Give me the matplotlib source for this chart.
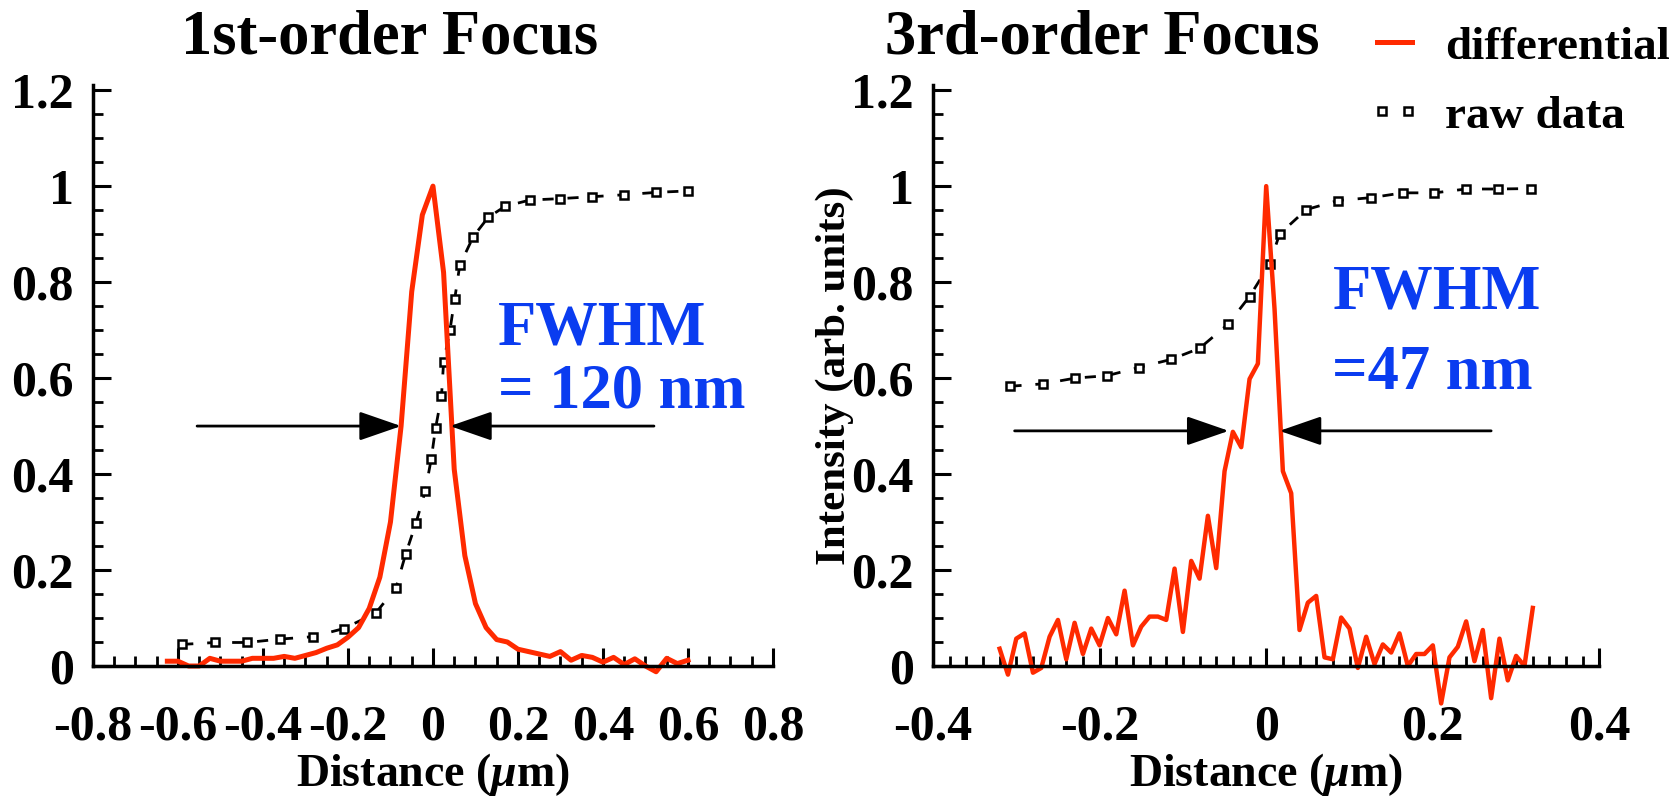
import matplotlib
matplotlib.use("Agg")
import matplotlib.pyplot as plt
from matplotlib.lines import Line2D
from matplotlib.legend_handler import HandlerLine2D
from matplotlib.ticker import MultipleLocator

plt.rcParams['font.family'] = ['Liberation Serif', 'DejaVu Serif']
plt.rcParams['font.weight'] = 'bold'
plt.rcParams['axes.titleweight'] = 'bold'
plt.rcParams['axes.labelweight'] = 'bold'
plt.rcParams['mathtext.fontset'] = 'custom'
plt.rcParams['mathtext.rm'] = 'Liberation Serif:bold'
plt.rcParams['mathtext.it'] = 'Liberation Serif:italic:bold'

# ---- 1st-order focus data ----
x1_diff = [-0.625, -0.600, -0.575, -0.550, -0.525, -0.500, -0.475, -0.450, -0.425, -0.400,
           -0.375, -0.350, -0.325, -0.300, -0.275, -0.250, -0.225, -0.200, -0.175, -0.150,
           -0.125, -0.100, -0.075, -0.050, -0.025, 0.000, 0.025, 0.050, 0.075, 0.100,
           0.125, 0.150, 0.175, 0.200, 0.225, 0.250, 0.275, 0.300, 0.325, 0.350,
           0.375, 0.400, 0.425, 0.450, 0.475, 0.500, 0.525, 0.550, 0.575, 0.600]
y1_diff = [0.010, 0.010, 0.000, 0.000, 0.016, 0.010, 0.010, 0.010, 0.016, 0.016,
           0.016, 0.020, 0.016, 0.022, 0.028, 0.037, 0.044, 0.060, 0.080, 0.120,
           0.185, 0.300, 0.500, 0.780, 0.940, 1.000, 0.820, 0.410, 0.230, 0.130,
           0.080, 0.055, 0.050, 0.035, 0.030, 0.025, 0.020, 0.030, 0.012, 0.022,
           0.018, 0.008, 0.018, 0.003, 0.015, 0.000, -0.012, 0.016, 0.005, 0.012]

x1_raw = [-0.59, -0.512, -0.437, -0.361, -0.283, -0.21, -0.135, -0.087, -0.064, -0.04,
          -0.018, -0.004, 0.006, 0.02, 0.025, 0.04, 0.051, 0.063, 0.095, 0.13,
          0.17, 0.228, 0.30, 0.375, 0.45, 0.525, 0.60]
y1_raw = [0.045, 0.049, 0.049, 0.056, 0.061, 0.078, 0.11, 0.163, 0.234, 0.298,
          0.365, 0.432, 0.495, 0.562, 0.633, 0.70, 0.764, 0.835, 0.895, 0.935,
          0.958, 0.971, 0.974, 0.978, 0.982, 0.987, 0.990]

# ---- 3rd-order focus data ----
x3_diff = [-0.32, -0.31, -0.30, -0.29, -0.28, -0.27, -0.26, -0.25, -0.24, -0.23,
           -0.22, -0.21, -0.20, -0.19, -0.18, -0.17, -0.16, -0.15, -0.14, -0.13,
           -0.12, -0.11, -0.10, -0.09, -0.08, -0.07, -0.06, -0.05, -0.04, -0.03,
           -0.02, -0.01, 0.00, 0.01, 0.02, 0.03, 0.04, 0.05, 0.06, 0.07,
           0.08, 0.09, 0.10, 0.11, 0.12, 0.13, 0.14, 0.15, 0.16, 0.17,
           0.18, 0.19, 0.20, 0.21, 0.22, 0.23, 0.24, 0.25, 0.26, 0.27,
           0.28, 0.29, 0.30, 0.31, 0.32]
y3_diff = [0.036, -0.018, 0.057, 0.068, -0.014, -0.004, 0.061, 0.096, 0.014, 0.090,
           0.025, 0.078, 0.043, 0.100, 0.066, 0.157, 0.043, 0.082, 0.103, 0.103,
           0.096, 0.203, 0.071, 0.219, 0.182, 0.313, 0.204, 0.406, 0.488, 0.456,
           0.598, 0.630, 1.000, 0.744, 0.406, 0.360, 0.075, 0.132, 0.146, 0.018,
           0.014, 0.101, 0.078, -0.004, 0.061, 0.004, 0.045, 0.028, 0.068, 0.000,
           0.025, 0.025, 0.043, -0.078, 0.018, 0.040, 0.093, 0.010, 0.075, -0.067,
           0.057, -0.030, 0.021, 0.000, 0.121]

x3_raw = [-0.307, -0.268, -0.229, -0.191, -0.153, -0.114, -0.08, -0.046, -0.02, 0.004,
          0.016, 0.048, 0.086, 0.126, 0.164, 0.202, 0.24, 0.278, 0.318]
y3_raw = [0.583, 0.588, 0.600, 0.605, 0.622, 0.639, 0.662, 0.712, 0.770, 0.837,
          0.900, 0.951, 0.970, 0.976, 0.986, 0.986, 0.994, 0.994, 0.995]

red = '#FF2A00'
blue = '#0A3CF0'

fig = plt.figure(figsize=(16.72, 8), dpi=100)
ax1 = fig.add_axes([0.0556, 0.1675, 0.4067, 0.7258])
ax2 = fig.add_axes([0.558, 0.1675, 0.3986, 0.7258])


def fmt(v, p):
    return '0' if abs(v) < 1e-9 else f'{v:g}'


def style_axes(ax, xmin, xmax, xminor):
    ax.set_xlim(xmin, xmax)
    ax.set_ylim(0, 1.21)
    ax.spines['top'].set_visible(False)
    ax.spines['right'].set_visible(False)
    for s in ['left', 'bottom']:
        ax.spines[s].set_linewidth(2.5)
    ax.xaxis.set_major_locator(MultipleLocator(0.2))
    ax.xaxis.set_minor_locator(MultipleLocator(xminor))
    ax.yaxis.set_major_locator(MultipleLocator(0.2))
    ax.yaxis.set_minor_locator(MultipleLocator(0.05))
    ax.tick_params(which='major', direction='in', length=13, width=2.2,
                   labelsize=36, top=False, right=False)
    ax.tick_params(which='minor', direction='in', length=7, width=2,
                   top=False, right=False)
    ax.tick_params(axis='x', which='major', pad=28)
    ax.tick_params(axis='y', which='major', pad=14)
    ax.xaxis.set_major_formatter(plt.FuncFormatter(fmt))
    ax.yaxis.set_major_formatter(plt.FuncFormatter(fmt))
    ax.set_xlabel(r'Distance ($\mu$m)', fontsize=33, labelpad=0)


style_axes(ax1, -0.8, 0.8, 0.05)
style_axes(ax2, -0.4, 0.4, 0.02)

arrow = dict(arrowstyle='-|>,head_length=1.3,head_width=0.45',
             color='black', lw=2, mutation_scale=20, shrinkA=0, shrinkB=0)

# left panel
ax1.plot(x1_raw, y1_raw, color='black', lw=2, ls=(0, (4, 5)),
         marker='s', ms=6, mfc='white', mec='black', mew=1.8, clip_on=False)
ax1.plot(x1_diff, y1_diff, color=red, lw=3.6, clip_on=False)
ax1.set_title('1st-order Focus', fontsize=45, pad=23, x=0.436)
ax1.annotate('', xy=(-0.075, 0.5), xytext=(-0.555, 0.5), arrowprops=arrow)
ax1.annotate('', xy=(0.04, 0.5), xytext=(0.52, 0.5), arrowprops=arrow)
ax1.text(0.152, 0.670, 'FWHM', color=blue, fontsize=45, ha='left', va='baseline')
ax1.text(0.152, 0.539, '= 120 nm', color=blue, fontsize=45, ha='left', va='baseline')

# right panel
ax2.plot(x3_raw, y3_raw, color='black', lw=2, ls=(0, (4, 5)),
         marker='s', ms=6, mfc='white', mec='black', mew=1.8, clip_on=False)
ax2.plot(x3_diff, y3_diff, color=red, lw=3.2, clip_on=False)
ax2.set_title('3rd-order Focus', fontsize=45, pad=23, x=0.254)
ax2.set_ylabel('Intensity (arb. units)', fontsize=31, labelpad=-2)
ax2.annotate('', xy=(-0.045, 0.49), xytext=(-0.302, 0.49), arrowprops=arrow)
ax2.annotate('', xy=(0.016, 0.49), xytext=(0.27, 0.49), arrowprops=arrow)
ax2.text(0.0795, 0.744, 'FWHM', color=blue, fontsize=45, ha='left', va='baseline')
ax2.text(0.0795, 0.578, '=47 nm', color=blue, fontsize=45, ha='left', va='baseline')

handles = [
    Line2D([], [], color=red, lw=3.6),
    Line2D([], [], color='black', ls='none', marker='s', ms=6,
           mfc='white', mec='black', mew=1.8),
]
fig.legend(handles, ['differential', 'raw data'], loc='upper left',
           bbox_to_anchor=(0.815, 0.968), frameon=False, fontsize=34,
           borderpad=0, borderaxespad=0,
           numpoints=2, handlelength=1.35, handletextpad=0.4, labelspacing=0.55,
           handler_map={handles[1]: HandlerLine2D(marker_pad=0.4)})

fig.savefig('out.png', dpi=100)
